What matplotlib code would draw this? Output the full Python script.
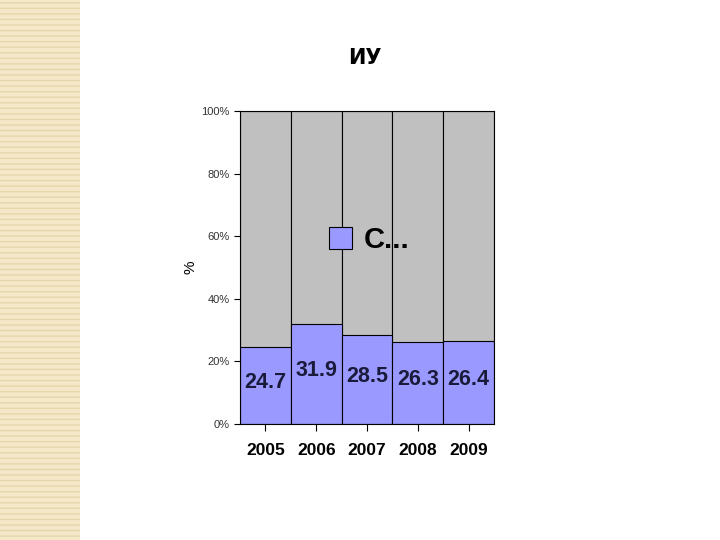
import matplotlib
matplotlib.use("Agg")
import matplotlib.pyplot as plt
from matplotlib.patches import Rectangle
from matplotlib.ticker import PercentFormatter

years = ["2005", "2006", "2007", "2008", "2009"]
shares = [24.7, 31.9, 28.5, 26.3, 26.4]
title = "ИУ"
series_name = "С..."

plt.rcParams["font.family"] = ["Liberation Sans", "DejaVu Sans"]

fig = plt.figure(figsize=(7.2, 5.4), dpi=100)
fig.patch.set_facecolor("white")

# beige striped strip on the left edge
fig.patches.append(Rectangle((0, 0), 80 / 720, 1, transform=fig.transFigure,
                             facecolor="#f4e8c8", edgecolor="#e6d6ae", hatch="---",
                             linewidth=0, zorder=0))

ax = fig.add_axes([240 / 720, 116 / 540, 254 / 720, 313 / 540])

x = range(len(years))
ax.bar(x, [100] * len(years), width=1.0, color="#c0c0c0", edgecolor="black", linewidth=0.8)
ax.bar(x, shares, width=1.0, color="#9999ff", edgecolor="black", linewidth=0.8,
       label=series_name)

for i, v in enumerate(shares):
    ax.text(i, v / 2 + 1, f"{v:.1f}", ha="center", va="center", fontsize=15.5,
            fontweight="bold", color="#1a1a3a")

ax.set_xlim(-0.5, len(years) - 0.5)
ax.set_ylim(0, 100)
ax.set_yticks([0, 20, 40, 60, 80, 100])
ax.yaxis.set_major_formatter(PercentFormatter(decimals=0))
ax.tick_params(axis="y", labelsize=8, length=4, direction="out", labelcolor="#333333")
ax.set_xticks(list(x))
ax.set_xticklabels(years, fontsize=12.5, fontweight="bold")
ax.tick_params(axis="x", length=5, direction="out", pad=9)
ax.set_ylabel("%", fontsize=11, labelpad=3)
for s in ax.spines.values():
    s.set_linewidth(0.8)

fig.text(365 / 720, 1 - 58 / 540, title, ha="center", va="center", fontsize=15,
         fontweight="bold", fontstyle="normal", family=["DejaVu Sans"])

ax.legend(loc="center", bbox_to_anchor=(0.51, 0.588), frameon=False,
          prop={"size": 21, "weight": "bold"}, handlelength=0.8, handleheight=0.8,
          handletextpad=0.4)

fig.savefig("out.png", dpi=100)
